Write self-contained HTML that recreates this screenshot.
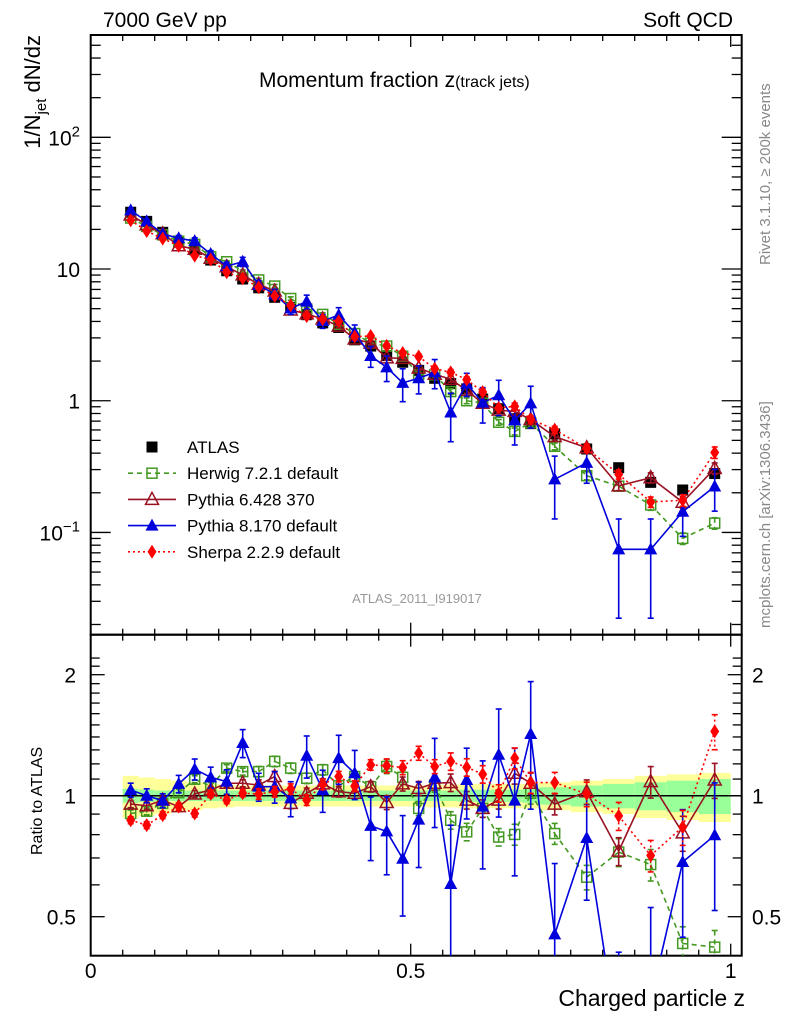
<!DOCTYPE html>
<html><head><meta charset="utf-8"><style>
html,body{margin:0;padding:0;background:#fff;width:786px;height:1024px;overflow:hidden}
svg{display:block;font-family:"Liberation Sans",sans-serif}
</style></head><body>
<svg id="chart" width="786" height="1024" viewBox="0 0 786 1024" xmlns="http://www.w3.org/2000/svg">
<text x="103" y="27" font-size="21">7000 GeV pp</text>
<text x="733" y="27" font-size="21" text-anchor="end">Soft QCD</text>
<text x="259" y="87" font-size="21">Momentum fraction z<tspan font-size="16">(track jets)</tspan></text>
<text transform="translate(770,265) rotate(-90)" font-size="15" fill="#888">Rivet 3.1.10, ≥ 200k events</text>
<text transform="translate(770,628) rotate(-90)" font-size="15" fill="#888">mcplots.cern.ch [arXiv:1306.3436]</text>
<text transform="translate(40,35) rotate(-90)" font-size="22" text-anchor="end">1/N<tspan font-size="15" dy="6">jet</tspan><tspan dy="-6"> dN/dz</tspan></text>
<text transform="translate(42,855) rotate(-90)" font-size="16">Ratio to ATLAS</text>
<text x="745" y="1006" font-size="23" text-anchor="end">Charged particle z</text>
<text x="417" y="603" font-size="13" fill="#999" text-anchor="middle">ATLAS_2011_I919017</text>
<g id="bands"></g><g id="axes"></g><g id="series"></g><g id="legend"></g>
</svg>
<script>
const zCenters=[0.0625,0.0875,0.1125,0.1375,0.1625,0.1875,0.2125,0.2375,0.2625,0.2875,0.3125,0.3375,0.3625,0.3875,0.4125,0.4375,0.4625,0.4875,0.5125,0.5375,0.5625,0.5875,0.6125,0.6375,0.6625,0.6875,0.725,0.775,0.825,0.875,0.925,0.975];
const binWidths=[0.025,0.025,0.025,0.025,0.025,0.025,0.025,0.025,0.025,0.025,0.025,0.025,0.025,0.025,0.025,0.025,0.025,0.025,0.025,0.025,0.025,0.025,0.025,0.025,0.025,0.025,0.05,0.05,0.05,0.05,0.05,0.05];
const atlas=[27,23,19,16,14,11.7,9.7,8.4,7.2,6.1,5.1,4.5,3.9,3.6,2.9,2.6,2.2,1.96,1.7,1.48,1.35,1.23,1.03,0.87,0.73,0.67,0.56,0.43,0.31,0.24,0.21,0.28];
const bandInner=[0.04,0.035,0.03,0.03,0.03,0.03,0.03,0.03,0.03,0.03,0.03,0.03,0.03,0.03,0.03,0.03,0.03,0.03,0.03,0.03,0.03,0.035,0.035,0.035,0.035,0.04,0.05,0.06,0.07,0.08,0.09,0.1];
const bandOuter=[0.12,0.11,0.1,0.09,0.08,0.07,0.065,0.06,0.06,0.06,0.06,0.06,0.06,0.06,0.06,0.06,0.06,0.06,0.06,0.065,0.065,0.07,0.07,0.07,0.07,0.07,0.08,0.09,0.1,0.12,0.13,0.14];
const herwigRatio=[0.903,0.915,0.957,1.017,1.099,1.057,1.171,1.148,1.148,1.217,1.171,1.105,1.160,1.059,1.116,1.053,1.182,1.111,0.930,1.063,0.869,0.813,0.930,0.789,0.801,1.014,0.805,0.627,0.724,0.674,0.429,0.420];
const pythia6Ratio=[0.953,0.944,0.975,0.939,1.01,1.033,1.074,1.074,1.063,1.116,0.957,1.014,1.070,1.023,1.014,1.053,0.962,1.070,1.043,1.074,1.078,0.975,0.930,0.975,1.137,1.074,0.953,1.023,0.728,1.084,0.808,1.094];
const pythia8Ratio=[1.033,1.0,0.972,1.070,1.164,1.111,1.084,1.352,1.053,1.053,0.985,1.257,1.033,1.240,1.137,0.841,0.815,0.697,0.872,1.111,0.603,1.094,0.939,1.264,0.972,1.424,0.452,0.785,0.24,0.31,0.684,0.797];
const sherpaRatio=[0.869,0.845,0.895,0.939,0.903,1.01,0.975,1.014,1.01,1.023,1.039,0.975,1.067,1.116,1.057,1.193,1.187,1.175,1.276,1.182,1.217,1.177,1.131,1.014,1.240,1.078,1.078,1.01,0.891,0.710,0.836,1.446];
const pythia8Err=[0.04,0.04,0.04,0.05,0.06,0.06,0.07,0.08,0.08,0.09,0.1,0.12,0.12,0.14,0.14,0.18,0.22,0.28,0.24,0.25,0.4,0.2,0.3,0.3,0.35,0.35,0.5,0.3,0.7,0.7,0.35,0.35];
const otherErr=[0.02,0.02,0.02,0.02,0.02,0.02,0.02,0.02,0.03,0.03,0.03,0.03,0.03,0.03,0.03,0.03,0.04,0.04,0.04,0.04,0.05,0.05,0.05,0.05,0.06,0.06,0.06,0.07,0.08,0.09,0.1,0.1];
const mainTicks=["10^-1","1","10","10^2"];
const ratioTicks=[0.5,1,2];
const xTicks=[0,0.5,1];

const NS="http://www.w3.org/2000/svg";
const L=90.7,R=741.7,T=35,MB=634.7,RB=955.7,XU=640;
const X=z=>L+z*XU;
const LOGTOP=2.777,DEC=131.7;
const Ym=v=>T+(LOGTOP-Math.log10(v))*DEC;
const RONE=795.7,RU=121;
const Yr=r=>RONE-Math.log2(r)*RU;
function el(tag,attrs,parent){const e=document.createElementNS(NS,tag);for(const k in attrs)e.setAttribute(k,attrs[k]);parent.appendChild(e);return e;}
const bands=document.getElementById('bands'),axes=document.getElementById('axes'),ser=document.getElementById('series'),leg=document.getElementById('legend');
const clamp=(y,a,b)=>Math.min(b,Math.max(a,y));

zCenters.forEach((z,i)=>{
  const x0=X(z-binWidths[i]/2),x1=X(z+binWidths[i]/2);
  const a=el('rect',{x:x0,y:Yr(1+bandOuter[i]),width:x1-x0,height:Yr(1-bandOuter[i])-Yr(1+bandOuter[i]),fill:'#ffff99'},bands);
  
  
  const b=el('rect',{x:x0,y:Yr(1+bandInner[i]),width:x1-x0,height:Yr(1-bandInner[i])-Yr(1+bandInner[i]),fill:'#99ff99'},bands);
  
  
});

const f1=el('rect',{x:L,y:T,width:R-L,height:MB-T,fill:'none',stroke:'#000','stroke-width':2},axes);


const f2=el('rect',{x:L,y:MB,width:R-L,height:RB-MB,fill:'none',stroke:'#000','stroke-width':2},axes);


const one=el('line',{x1:L,x2:R,y1:RONE,y2:RONE,stroke:'#000','stroke-width':1.5},axes);



for(let k=0;k<=20;k++){const z=k*0.05,x=X(z),len=(k%10==0)?12:6;
  [[T,1],[MB,-1],[MB,1],[RB,-1]].forEach(([y,d])=>el('line',{x1:x,x2:x,y1:y,y2:y+d*len,stroke:'#000','stroke-width':1.3},axes));}
xTicks.forEach(v=>{const t=el('text',{x:X(v),y:978,'font-size':21,'text-anchor':'middle'},axes);t.textContent=String(v);
  
  });

for(let d=-2;d<=2;d++){for(let m=1;m<=9;m++){const v=m*Math.pow(10,d),y=Ym(v);if(y<T||y>MB)continue;const len=m==1?20:10;
  el('line',{x1:L,x2:L+len,y1:y,y2:y,stroke:'#000','stroke-width':1.3},axes);el('line',{x1:R,x2:R-len,y1:y,y2:y,stroke:'#000','stroke-width':1.3},axes);}}
mainTicks.forEach(s=>{const p=s.split('^');const v=p.length>1?Math.pow(10,Number(p[1])):Number(s);const y=Ym(v)+8;
  const t=el('text',{x:80,y:y,'font-size':21,'text-anchor':'end'},axes);
  
  
  if(p.length>1){t.appendChild(document.createTextNode(p[0]));const ts=el('tspan',{dy:-9,'font-size':15},t);ts.textContent=p[1].replace('-','\u2212');}
  else t.textContent=s;});

for(let k=3;k<=22;k++){const r=k/10;const y=Yr(r);if(y<MB||y>RB)continue;const len=(r==0.5||r==1||r==2)?14:9;
  el('line',{x1:L,x2:L+len,y1:y,y2:y,stroke:'#000','stroke-width':1.3},axes);el('line',{x1:R,x2:R-len,y1:y,y2:y,stroke:'#000','stroke-width':1.3},axes);}
ratioTicks.forEach(r=>{[[76,'end'],[752,'start']].forEach(([x,a])=>{const t=el('text',{x:x,y:Yr(r)+8,'font-size':21,'text-anchor':a},axes);t.textContent=String(r);
  
  });});

function marker(type,x,y,color,g){
  if(type=='sq') return el('rect',{x:x-5.5,y:y-5.5,width:11,height:11,fill:'#000'},g);
  if(type=='osq') return el('rect',{x:x-5,y:y-5,width:10,height:10,fill:'none',stroke:color,'stroke-width':1.5},g);
  if(type=='otri') return el('polygon',{points:`${x},${y-7} ${x-6.5},${y+5} ${x+6.5},${y+5}`,fill:'none',stroke:color,'stroke-width':1.5},g);
  if(type=='tri') return el('polygon',{points:`${x},${y-7} ${x-6.5},${y+5} ${x+6.5},${y+5}`,fill:color},g);
  if(type=='dia') return el('polygon',{points:`${x},${y-7} ${x-4.5},${y} ${x},${y+7} ${x+4.5},${y}`,fill:color},g);
}
// clip a segment vertically to [top,bot]
function clipSeg(x1,y1,x2,y2,top,bot){
  const f=(y)=>x1+(x2-x1)*(y-y1)/(y2-y1);
  if((y1<top&&y2<top)||(y1>bot&&y2>bot))return null;
  if(y1<top){x1=f(top);y1=top;} else if(y1>bot){x1=f(bot);y1=bot;}
  if(y2<top){x2=x1+(x2-x1)*0; }
  return [x1,y1,x2,y2];
}
function seg(xa,ya,xb,yb,top,bot){
  if((ya<top&&yb<top)||(ya>bot&&yb>bot))return null;
  let p=[xa,ya,xb,yb];
  const cut=(y)=>xa+(xb-xa)*(y-ya)/(yb-ya);
  if(ya<top){p[0]=cut(top);p[1]=top;} if(ya>bot){p[0]=cut(bot);p[1]=bot;}
  if(yb<top){p[2]=cut(top);p[3]=top;} if(yb>bot){p[2]=cut(bot);p[3]=bot;}
  return p;
}

const seriesDefs=[
 {name:'herwig',ratio:herwigRatio,err:otherErr,color:'#449922',dash:'5,4',mk:'osq'},
 {name:'pythia6',ratio:pythia6Ratio,err:otherErr,color:'#991122',dash:'',mk:'otri'},
 {name:'pythia8',ratio:pythia8Ratio,err:pythia8Err,color:'#0000dd',dash:'',mk:'tri'},
 {name:'sherpa',ratio:sherpaRatio,err:otherErr,color:'#ff0000',dash:'2,3',mk:'dia'}];

const ga=el('g',{},ser);


atlas.forEach((v,i)=>{const m=marker('sq',X(zCenters[i]),Ym(v),'#000',ga);
  
  });

seriesDefs.forEach(s=>{
  [[Ym,T,MB,i=>atlas[i]*s.ratio[i],'main'],[Yr,MB,RB,i=>s.ratio[i],'ratio']].forEach(([Y,top,bot,val,pan])=>{
    const g=el('g',{},ser);
    
    
    for(let i=0;i+1<zCenters.length;i++){
      const p=seg(X(zCenters[i]),Y(val(i)),X(zCenters[i+1]),Y(val(i+1)),top,bot);
      if(!p)continue;
      const ln=el('line',{x1:p[0],y1:p[1],x2:p[2],y2:p[3],stroke:s.color,'stroke-width':1.6},g);
      if(s.dash) ln.setAttribute('stroke-dasharray',s.dash);
      
      
    }
    zCenters.forEach((z,i)=>{const v=val(i),x=X(z);
      const yv=Y(v);
      const y1r=Y(v*(1+s.err[i])),y2r=Y(Math.max(v*(1-s.err[i]),1e-4));
      if(y2r<top||y1r>bot)return;
      const y1=clamp(y1r,top,bot),y2=clamp(y2r,top,bot);
      el('line',{x1:x,x2:x,y1:y1,y2:y2,stroke:s.color,'stroke-width':1.6,'stroke-dasharray':s.dash},g);
      if(y1r>=top) el('line',{x1:x-3,x2:x+3,y1:y1,y2:y1,stroke:s.color,'stroke-width':1.6},g);
      if(y2r<=bot) el('line',{x1:x-3,x2:x+3,y1:y2,y2:y2,stroke:s.color,'stroke-width':1.6},g);
      if(yv>top+4&&yv<bot-4){
        const m=marker(s.mk,x,yv,s.color,g);
        
        
      }});
  });
});

const legItems=[['ATLAS','sq','#000',''],['Herwig 7.2.1 default','osq','#449922','5,4'],['Pythia 6.428 370','otri','#991122',''],['Pythia 8.170 default','tri','#0000dd',''],['Sherpa 2.2.9 default','dia','#ff0000','2,3']];
legItems.forEach((it,i)=>{const y=447+i*26.2;
  const g=el('g',{},leg);
  
  
  if(i>0) el('line',{x1:128,x2:176,y1:y,y2:y,stroke:it[2],'stroke-width':1.6,'stroke-dasharray':it[3]},g);
  marker(it[1],152,y,it[2],g);
  const t=el('text',{x:187,y:y+6,'font-size':17},g);t.textContent=it[0];});
</script>
</body></html>
